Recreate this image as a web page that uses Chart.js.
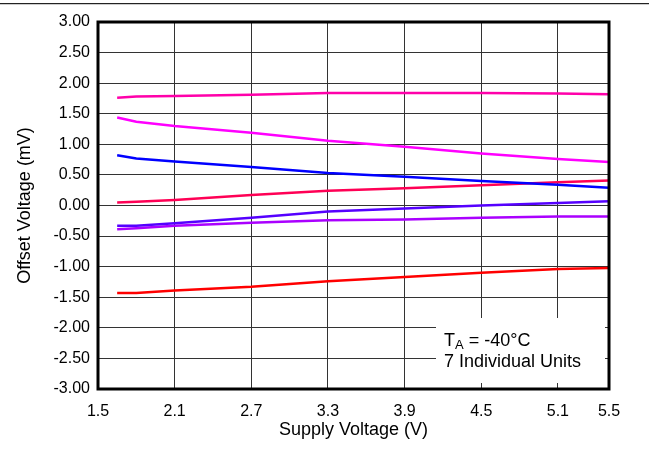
<!DOCTYPE html>
<html>
<head>
<meta charset="utf-8">
<script src="https://cdn.jsdelivr.net/npm/chart.js@4.4.1/dist/chart.umd.min.js"></script>
<style>
  body { margin: 0; background: #fff; }
  #wrap { position: relative; width: 649px; height: 449px; }
  #topline { position: absolute; left: 0; top: 3px; width: 649px; height: 1px; background: #222; border-bottom: 1px solid #ccc; }
  canvas { position: absolute; left: 0; top: 0; }
</style>
</head>
<body>
<div id="wrap">
  <canvas id="chart" width="649" height="449"></canvas>
  <div id="topline"></div>
</div>
<script>
// supply voltage points (V)
const voltages = [1.65, 1.8, 2.1, 2.7, 3.3, 3.9, 4.5, 5.1, 5.5];
const xTicks = [1.5, 2.1, 2.7, 3.3, 3.9, 4.5, 5.1, 5.5];

// offset voltage (mV) for the 7 units
const unit1 = [1.76, 1.78, 1.79, 1.81, 1.84, 1.84, 1.84, 1.83, 1.82];
const unit2 = [1.44, 1.37, 1.30, 1.19, 1.06, 0.96, 0.85, 0.76, 0.71];
const unit3 = [0.82, 0.77, 0.72, 0.63, 0.53, 0.47, 0.40, 0.34, 0.29];
const unit4 = [0.05, 0.06, 0.09, 0.17, 0.24, 0.28, 0.33, 0.38, 0.41];
const unit5 = [-0.33, -0.33, -0.29, -0.20, -0.10, -0.05, 0.00, 0.04, 0.07];
const unit6 = [-0.39, -0.37, -0.33, -0.28, -0.24, -0.23, -0.20, -0.18, -0.18];
const unit7 = [-1.43, -1.43, -1.39, -1.33, -1.24, -1.17, -1.10, -1.04, -1.02];

const units = [unit1, unit2, unit3, unit4, unit5, unit6, unit7];
const colors = ['#FF00AA', '#FF00FF', '#0000FF', '#FF0055', '#5500FF', '#AA00FF', '#FF0000'];

const FONT = 'Arial, "Liberation Sans", sans-serif';

// white note box with the condition text
const noteBox = {
  id: 'noteBox',
  beforeDatasetsDraw(chart) {
    const a = chart.chartArea;
    const ctx = chart.ctx;
    ctx.save();
    ctx.fillStyle = '#fff';
    ctx.fillRect(a.right - 173, a.bottom - 71, 169, 65);
    ctx.fillStyle = '#000';
    ctx.textBaseline = 'alphabetic';
    ctx.font = '18px ' + FONT;
    const x0 = a.right - 165;
    ctx.fillText('T', x0, a.bottom - 43);
    const tw = ctx.measureText('T').width;
    ctx.font = '13px ' + FONT;
    ctx.fillText('A', x0 + tw, a.bottom - 40);
    const aw = ctx.measureText('A').width;
    ctx.font = '18px ' + FONT;
    ctx.fillText(' = -40°C', x0 + tw + aw, a.bottom - 43);
    ctx.fillText('7 Individual Units', x0, a.bottom - 22);
    ctx.restore();
  },
  afterDraw(chart) {
    const a = chart.chartArea;
    const ctx = chart.ctx;
    ctx.save();
    ctx.strokeStyle = '#000';
    ctx.lineWidth = 3;
    ctx.strokeRect(a.left, a.top, a.right - a.left, a.bottom - a.top);
    ctx.restore();
  }
};

new Chart(document.getElementById('chart'), {
  type: 'line',
  data: {
    datasets: units.map((u, i) => ({
      label: 'Unit ' + (i + 1),
      data: voltages.map((v, j) => ({ x: v, y: u[j] })),
      borderColor: colors[i],
      borderWidth: 2.5,
      pointRadius: 0,
      tension: 0,
      fill: false
    }))
  },
  options: {
    responsive: false,
    animation: false,
    layout: { padding: { left: 0, top: 22, right: 40, bottom: 0 } },
    plugins: { legend: { display: false }, tooltip: { enabled: false } },
    scales: {
      x: {
        type: 'linear',
        min: 1.5,
        max: 5.5,
        afterBuildTicks: (scale) => { scale.ticks = xTicks.map(v => ({ value: v })); },
        afterFit: (scale) => { scale.height = 60; },
        grid: { color: '#333', lineWidth: 1, tickLength: 0 },
        border: { display: false },
        ticks: {
          color: '#000',
          font: { family: FONT, size: 16 },
          padding: 13,
          maxRotation: 0,
          callback: (v) => v.toFixed(1)
        },
        title: {
          display: true,
          text: 'Supply Voltage (V)',
          color: '#000',
          font: { family: FONT, size: 18 },
          padding: 8
        }
      },
      y: {
        min: -3,
        max: 3,
        afterFit: (scale) => { scale.width = 98; },
        grid: { color: '#333', lineWidth: 1, tickLength: 0 },
        border: { display: false },
        ticks: {
          stepSize: 0.5,
          color: '#000',
          font: { family: FONT, size: 16 },
          padding: 8,
          callback: (v) => v.toFixed(2)
        },
        title: {
          display: true,
          text: 'Offset Voltage (mV)',
          color: '#000',
          font: { family: FONT, size: 18 },
          padding: 14
        }
      }
    }
  },
  plugins: [noteBox]
});
</script>
</body>
</html>
